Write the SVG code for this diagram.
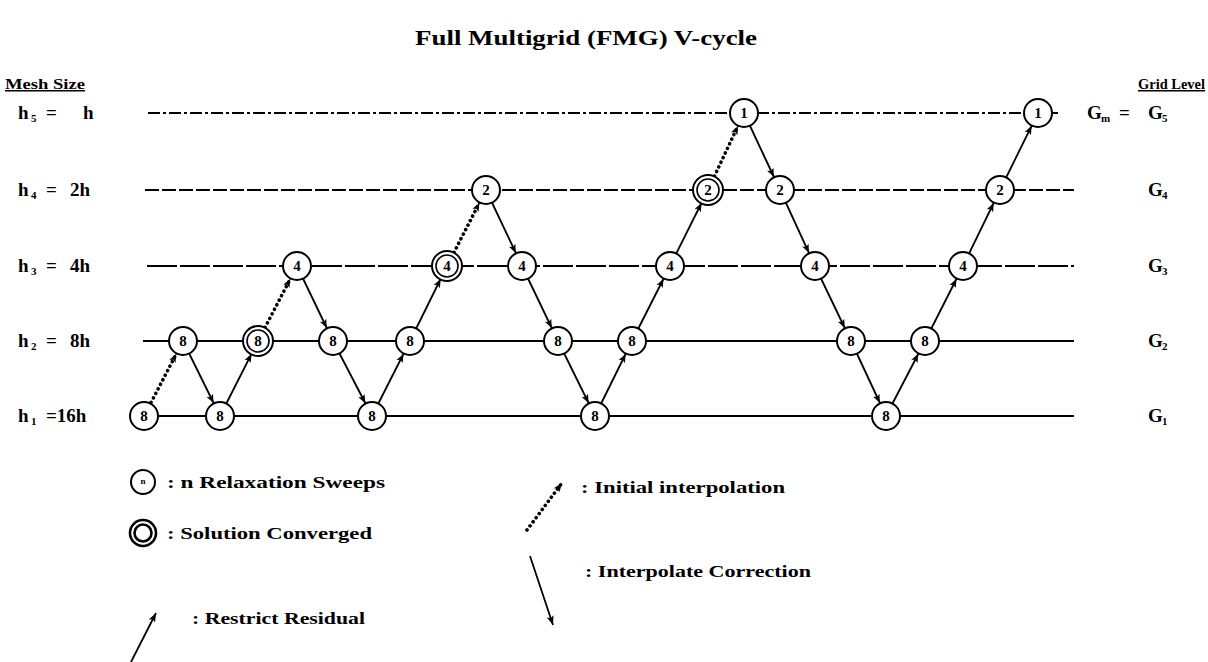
<svg xmlns="http://www.w3.org/2000/svg" width="1208" height="662" viewBox="0 0 1208 662">
<style>
text{font-family:"Liberation Serif","DejaVu Serif",serif;font-weight:bold;fill:#000}
.lbl{font-size:19px}
.sub{font-size:11px}
.leg{font-size:17px}
.grid{stroke:#000;stroke-width:2;fill:none}
.node circle{fill:#fff;stroke:#000;stroke-width:2}
.node circle.inner{stroke-width:1.6}
.node text{font-size:15px;text-anchor:middle}
.arr{stroke:#000;stroke-width:1.8;fill:none;marker-end:url(#ah)}
.dot{stroke:#000;stroke-width:3.6;fill:none;stroke-dasharray:0.1 5;stroke-linecap:round;marker-end:url(#ah)}
</style>
<defs>
<marker id="ah" markerUnits="userSpaceOnUse" markerWidth="40" markerHeight="20" refX="0" refY="0" orient="auto" overflow="visible">
<path d="M-14.5,0 L-23,-3.5 L-21,0 L-23,3.5 z" fill="#000"/>
</marker>
<marker id="ah0" markerUnits="userSpaceOnUse" markerWidth="20" markerHeight="20" refX="0" refY="0" orient="auto" overflow="visible">
<path d="M0,0 L-9,-3.5 L-7,0 L-9,3.5 z" fill="#000"/>
</marker>
</defs>
<rect width="1208" height="662" fill="#fff"/>

<text x="415" y="45" font-size="22" textLength="342" lengthAdjust="spacingAndGlyphs">Full Multigrid (FMG) V-cycle</text>

<g id="axis-labels">
<text x="5" y="89" font-size="15" textLength="80" lengthAdjust="spacingAndGlyphs" text-decoration="underline">Mesh Size</text>
<text x="1138" y="89" font-size="15" textLength="67" lengthAdjust="spacingAndGlyphs" text-decoration="underline">Grid Level</text>
<text class="lbl" y="119"><tspan x="18">h</tspan><tspan class="sub" x="31" y="122">5</tspan><tspan x="46" y="119">=</tspan><tspan x="83" y="119">h</tspan></text>
<text class="lbl" y="196"><tspan x="18">h</tspan><tspan class="sub" x="31" y="199">4</tspan><tspan x="46" y="196">=</tspan><tspan x="70" y="196">2h</tspan></text>
<text class="lbl" y="272"><tspan x="18">h</tspan><tspan class="sub" x="31" y="275">3</tspan><tspan x="46" y="272">=</tspan><tspan x="70" y="272">4h</tspan></text>
<text class="lbl" y="347"><tspan x="18">h</tspan><tspan class="sub" x="31" y="350">2</tspan><tspan x="46" y="347">=</tspan><tspan x="70" y="347">8h</tspan></text>
<text class="lbl" y="422"><tspan x="18">h</tspan><tspan class="sub" x="31" y="425">1</tspan><tspan x="46" y="422">=16h</tspan></text>
<text class="lbl" y="119"><tspan x="1087">G</tspan><tspan class="sub" x="1101" y="122">m</tspan><tspan x="1119" y="119">=</tspan><tspan x="1148" y="119">G</tspan><tspan class="sub" x="1162" y="122">5</tspan></text>
<text class="lbl" y="196"><tspan x="1148">G</tspan><tspan class="sub" x="1162" y="199">4</tspan></text>
<text class="lbl" y="272"><tspan x="1148">G</tspan><tspan class="sub" x="1162" y="275">3</tspan></text>
<text class="lbl" y="347"><tspan x="1148">G</tspan><tspan class="sub" x="1162" y="350">2</tspan></text>
<text class="lbl" y="422"><tspan x="1148">G</tspan><tspan class="sub" x="1162" y="425">1</tspan></text>
</g>

<g id="grid-lines">
<line class="grid" x1="148" y1="113" x2="1058" y2="113" stroke-dasharray="12 3 3 3"/>
<line class="grid" x1="145" y1="190" x2="1074" y2="190" stroke-dasharray="14 3"/>
<line class="grid" x1="147" y1="266" x2="1074" y2="266" stroke-dasharray="30 3"/>
<line class="grid" x1="143" y1="341" x2="1074" y2="341"/>
<line class="grid" x1="144" y1="416" x2="1074" y2="416"/>
</g>

<g id="connectors">
<line class="dot" x1="144" y1="416" x2="183" y2="341"/>
<line class="arr" x1="183" y1="341" x2="220" y2="416"/>
<line class="arr" x1="220" y1="416" x2="258" y2="341"/>
<line class="dot" x1="258" y1="341" x2="297" y2="266"/>
<line class="arr" x1="297" y1="266" x2="333" y2="341"/>
<line class="arr" x1="333" y1="341" x2="372" y2="416"/>
<line class="arr" x1="372" y1="416" x2="410" y2="341"/>
<line class="arr" x1="410" y1="341" x2="447" y2="266"/>
<line class="dot" x1="447" y1="266" x2="486" y2="190"/>
<line class="arr" x1="486" y1="190" x2="522" y2="266"/>
<line class="arr" x1="522" y1="266" x2="558" y2="341"/>
<line class="arr" x1="558" y1="341" x2="595" y2="416"/>
<line class="arr" x1="595" y1="416" x2="632" y2="341"/>
<line class="arr" x1="632" y1="341" x2="670" y2="266"/>
<line class="arr" x1="670" y1="266" x2="708" y2="190"/>
<line class="dot" x1="708" y1="190" x2="744" y2="113"/>
<line class="arr" x1="744" y1="113" x2="780" y2="190"/>
<line class="arr" x1="780" y1="190" x2="815" y2="266"/>
<line class="arr" x1="815" y1="266" x2="851" y2="341"/>
<line class="arr" x1="851" y1="341" x2="886" y2="416"/>
<line class="arr" x1="886" y1="416" x2="925" y2="341"/>
<line class="arr" x1="925" y1="341" x2="963" y2="266"/>
<line class="arr" x1="963" y1="266" x2="1000" y2="190"/>
<line class="arr" x1="1000" y1="190" x2="1038" y2="113"/>
</g>

<g id="n1" class="node"><circle cx="144" cy="416" r="14"/><text x="144" y="421">8</text></g>
<g id="n2" class="node"><circle cx="183" cy="341" r="14"/><text x="183" y="346">8</text></g>
<g id="n3" class="node"><circle cx="220" cy="416" r="14"/><text x="220" y="421">8</text></g>
<g id="n4" class="node"><circle cx="258" cy="341" r="15"/><circle class="inner" cx="258" cy="341" r="11"/><text x="258" y="346">8</text></g>
<g id="n5" class="node"><circle cx="297" cy="266" r="14"/><text x="297" y="271">4</text></g>
<g id="n6" class="node"><circle cx="333" cy="341" r="14"/><text x="333" y="346">8</text></g>
<g id="n7" class="node"><circle cx="372" cy="416" r="14"/><text x="372" y="421">8</text></g>
<g id="n8" class="node"><circle cx="410" cy="341" r="14"/><text x="410" y="346">8</text></g>
<g id="n9" class="node"><circle cx="447" cy="266" r="15"/><circle class="inner" cx="447" cy="266" r="11"/><text x="447" y="271">4</text></g>
<g id="n10" class="node"><circle cx="486" cy="190" r="14"/><text x="486" y="195">2</text></g>
<g id="n11" class="node"><circle cx="522" cy="266" r="14"/><text x="522" y="271">4</text></g>
<g id="n12" class="node"><circle cx="558" cy="341" r="14"/><text x="558" y="346">8</text></g>
<g id="n13" class="node"><circle cx="595" cy="416" r="14"/><text x="595" y="421">8</text></g>
<g id="n14" class="node"><circle cx="632" cy="341" r="14"/><text x="632" y="346">8</text></g>
<g id="n15" class="node"><circle cx="670" cy="266" r="14"/><text x="670" y="271">4</text></g>
<g id="n16" class="node"><circle cx="708" cy="190" r="15"/><circle class="inner" cx="708" cy="190" r="11"/><text x="708" y="195">2</text></g>
<g id="n17" class="node"><circle cx="744" cy="113" r="14"/><text x="744" y="118">1</text></g>
<g id="n18" class="node"><circle cx="780" cy="190" r="14"/><text x="780" y="195">2</text></g>
<g id="n19" class="node"><circle cx="815" cy="266" r="14"/><text x="815" y="271">4</text></g>
<g id="n20" class="node"><circle cx="851" cy="341" r="14"/><text x="851" y="346">8</text></g>
<g id="n21" class="node"><circle cx="886" cy="416" r="14"/><text x="886" y="421">8</text></g>
<g id="n22" class="node"><circle cx="925" cy="341" r="14"/><text x="925" y="346">8</text></g>
<g id="n23" class="node"><circle cx="963" cy="266" r="14"/><text x="963" y="271">4</text></g>
<g id="n24" class="node"><circle cx="1000" cy="190" r="14"/><text x="1000" y="195">2</text></g>
<g id="n25" class="node"><circle cx="1038" cy="113" r="14"/><text x="1038" y="118">1</text></g>

<g id="legend">
<g class="node"><circle cx="143" cy="482" r="12"/><text x="143" y="484" style="font-size:9px">n</text></g>
<text class="leg" x="167" y="488" textLength="218" lengthAdjust="spacingAndGlyphs">: n Relaxation Sweeps</text>
<g class="node"><circle cx="143" cy="533" r="13" style="stroke-width:2.6"/><circle cx="143" cy="533" r="8.5" style="stroke-width:2.6"/></g>
<text class="leg" x="167" y="539" textLength="205" lengthAdjust="spacingAndGlyphs">: Solution Converged</text>
<line x1="131" y1="662" x2="156" y2="613" stroke="#000" stroke-width="1.8" marker-end="url(#ah0)"/>
<text class="leg" x="192" y="624" textLength="173" lengthAdjust="spacingAndGlyphs">: Restrict Residual</text>
<line x1="527" y1="530" x2="562" y2="483" stroke="#000" stroke-width="3.6" stroke-dasharray="0.1 5" stroke-linecap="round" marker-end="url(#ah0)"/>
<text class="leg" x="581" y="493" textLength="204" lengthAdjust="spacingAndGlyphs">: Initial interpolation</text>
<line x1="530" y1="556" x2="553" y2="625" stroke="#000" stroke-width="1.8" marker-end="url(#ah0)"/>
<text class="leg" x="585" y="577" textLength="226" lengthAdjust="spacingAndGlyphs">: Interpolate Correction</text>
</g>
</svg>
